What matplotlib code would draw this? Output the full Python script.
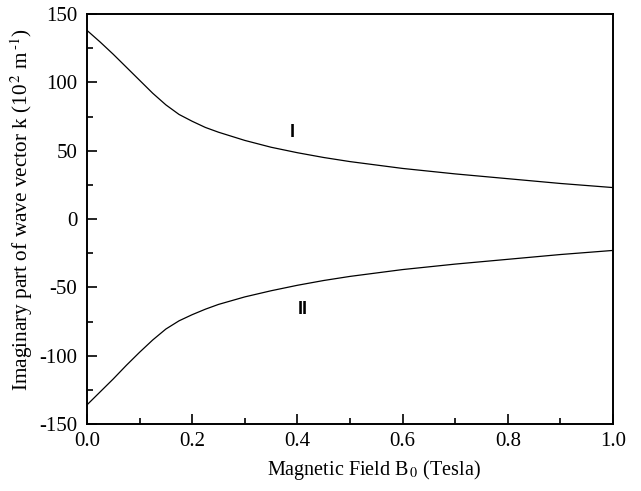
import numpy as np
import matplotlib
matplotlib.use('Agg')
from matplotlib import pyplot as plt
from matplotlib.ticker import MultipleLocator, FormatStrFormatter

plt.rcParams['font.family'] = ['Liberation Serif', 'DejaVu Serif']
plt.rcParams['mathtext.fontset'] = 'stix'
plt.rcParams['axes.unicode_minus'] = False

# values
b_field = [0.0, 0.025, 0.05, 0.075, 0.1, 0.125, 0.15, 0.175, 0.2, 0.225, 0.25, 0.3, 0.35,
           0.4, 0.45, 0.5, 0.6, 0.7, 0.8, 0.9, 1.0]
k_one = [138, 129.5, 120.5, 111, 101.5, 92, 83.5, 76.5, 71.5, 67, 63.5, 57.5, 52.5,
         48.5, 45, 42, 37, 33, 29.5, 26, 23]
k_two = [-136, -126.5, -117, -107, -97.5, -88.5, -80.5, -74.5, -70, -66, -62.5, -57, -52.5,
         -48.5, -45, -42, -37, -33, -29.5, -26, -23]

fig = plt.figure(figsize=(6.41, 4.91), dpi=100)
ax = fig.add_axes([87/641, 1-424/491, 526/641, 410/491])

ax.plot(b_field, k_one, color='black', lw=0.9)
ax.plot(b_field, k_two, color='black', lw=0.9)

ax.text(0.39, 63, 'I', fontsize=13, fontweight='bold', family='Liberation Sans', ha='center', va='center')
ax.text(0.41, -66, 'II', fontsize=13, fontweight='bold', family='Liberation Sans', ha='center', va='center')

ax.set_xlim(0, 1.0)
ax.set_ylim(-150, 150)
ax.xaxis.set_major_locator(MultipleLocator(0.2))
ax.xaxis.set_minor_locator(MultipleLocator(0.1))
ax.yaxis.set_major_locator(MultipleLocator(50))
ax.yaxis.set_minor_locator(MultipleLocator(25))
ax.xaxis.set_major_formatter(FormatStrFormatter('%.1f'))
ax.tick_params(which='both', direction='in', labelsize=15, width=1.2)
ax.tick_params(which='major', length=7)
ax.tick_params(which='minor', length=4)
ax.tick_params(axis='x', pad=6)
ax.tick_params(axis='y', pad=7)
for s in ax.spines.values():
    s.set_linewidth(1.4)

ax.set_xlabel(r'Magnetic Field B$_{\,0}$ (Tesla)', fontsize=14.5)
ax.xaxis.set_label_coords(0.546, -0.083)
ax.set_ylabel(r'Imaginary part of wave vector k (10$^{\,2}$ m$^{\,\text{-}1}$)', fontsize=15.3)
ax.yaxis.set_label_coords(-0.098, 0.522)

fig.savefig('out.png', dpi=100)
